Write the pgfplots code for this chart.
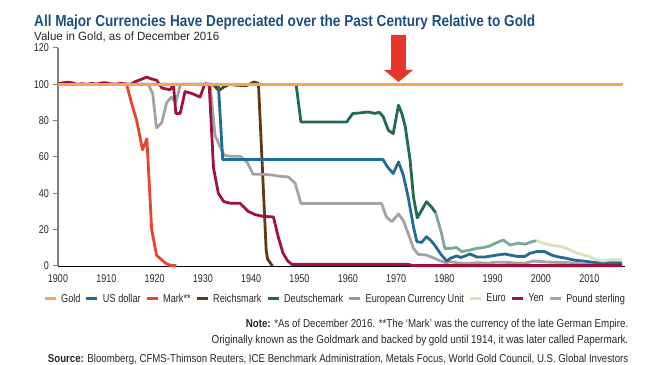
\documentclass[border=0pt]{standalone}
\usepackage{fontspec}
\setmainfont{Liberation Sans}[FakeStretch=0.8]
\usepackage{graphicx}
\usepackage{pgfplots}
\pgfplotsset{compat=1.18}
\definecolor{goldc}{RGB}{244,165,80}
\definecolor{usdc}{RGB}{32,108,148}
\definecolor{markc}{RGB}{232,68,46}
\definecolor{reichc}{RGB}{94,59,18}
\definecolor{dmc}{RGB}{31,107,77}
\definecolor{ecuc}{RGB}{125,167,154}
\definecolor{euroc}{RGB}{212,228,188}
\definecolor{yenc}{RGB}{163,18,63}
\definecolor{poundc}{RGB}{163,163,163}
\definecolor{arrowc}{RGB}{232,53,43}
\definecolor{titlec}{RGB}{27,79,128}
\definecolor{textc}{RGB}{40,40,40}
\begin{document}
\begin{tikzpicture}
\useasboundingbox (0,0) rectangle (668bp,365bp);
\begin{axis}[
  at={(58bp,99bp)}, anchor=south west,
  scale only axis, width=567bp, height=218bp,
  xmin=1900, xmax=2017.4, ymin=0, ymax=120,
  clip=false,
  axis x line*=bottom, axis y line*=left,
  axis line style={-},
  x axis line style={black, line width=0.9bp},
  y axis line style={gray, line width=1.8bp},
  xtick={1900,1910,...,2010}, ytick={0,20,...,120},
  xtick style={draw=none},
  ytick style={color=gray, line width=1bp},
  tick align=outside, major tick length=5.5bp,
  /pgf/number format/assume math mode=true,
  tick label style={font=\fontsize{11.3}{13}\selectfont, text=textc},
  x tick label style={/pgf/number format/1000 sep={}},
  legend columns=9,
  legend cell align=left,
  legend image code/.code={\draw[#1, line width=3bp] (0bp,0bp) -- (11bp,0bp);},
  legend style={at={(0.4868,-0.150)}, anchor=center, draw=none, fill=none,
    inner sep=0pt, font=\fontsize{11.5}{13}\selectfont, text=textc,
    nodes={inner sep=0pt},
    /tikz/every odd column/.append style={column sep=4bp},
    /tikz/every even column/.append style={column sep=4.5bp}},
  every axis plot/.append style={line width=2.8bp, line join=round},
]
% Mark
\addplot[forget plot, markc] coordinates {(1900,100)(1914.2,100)(1915.2,90)(1916.3,80)(1917.5,64)(1918.4,70)(1919.4,20)(1920.4,6)(1921.2,4)(1922.3,1.5)(1923.3,0.2)(1924.5,0.2)};
% Reichsmark
\addplot[forget plot, reichc] coordinates {(1931.5,100)(1932.3,99.5)(1933.3,96.5)(1934.3,98.5)(1935.5,100)(1937,99.5)(1939,99.3)(1940.6,101.3)(1941.5,100.5)(1942.3,55)(1943.1,8.8)(1943.4,3.8)(1944.4,0)};
% Pound sterling
\addplot[forget plot, poundc] coordinates {(1900,100)(1918.7,100)(1919.6,95)(1920.4,76)(1921.5,79)(1922.5,90)(1923.5,93)(1924.4,90)(1925.3,99.5)(1926,100)(1931.5,100)(1932.5,72)(1933.5,66)(1934.4,61)(1935.6,60.4)(1937.7,60.4)(1939.2,57)(1940.4,50.5)(1942.5,50.5)(1944.6,50)(1945.6,49.5)(1947.7,49)(1949.1,45.6)(1950.3,34.4)(1967,34.4)(1968,27)(1969.1,24.4)(1970.5,28.6)(1971.5,25)(1972.5,18)(1973.6,9.7)(1974.6,6.4)(1976.3,6)(1978,4.2)(1979,3)(1980.3,1.8)(1981.2,2.4)(1983,1.6)(1985,1.5)(1987,1.8)(1989,1.5)(1990.5,2.1)(1993,2)(1995,1.6)(1997,1.7)(1998.4,2.7)(1999.5,2.6)(2001,2.2)(2003,2)(2006,1.8)(2008,1.2)(2010,0.8)(2016.8,0.6)};
% US dollar
\addplot[forget plot, usdc] coordinates {(1900,100)(1933.2,100)(1934.1,58.6)(1967.3,58.6)(1968.2,54.6)(1969.4,50.9)(1970.5,57.3)(1971.5,50)(1972.5,38)(1973.6,21.6)(1974.3,13.4)(1975.3,13)(1976.3,16.1)(1977.2,14)(1978,11.5)(1979.4,6)(1980.5,2.7)(1981.2,4.2)(1982.5,5.5)(1983.5,4.7)(1985.3,6.6)(1986.7,5)(1988.5,5)(1990.8,6)(1992.5,6.6)(1995,5.3)(1996.7,5.3)(1997.7,7)(1999.1,7.9)(2000.8,7.9)(2002.2,6)(2003.6,5)(2005.3,4.2)(2006.7,3.3)(2008.8,2.7)(2011.6,1.8)(2016.8,1.8)};
% Deutschemark
\addplot[forget plot, dmc] coordinates {(1949.3,100)(1950.3,79.3)(1959.8,79.3)(1961,83.9)(1962.6,84.3)(1964.2,84.8)(1965.6,84)(1966.5,84.6)(1967.3,82.4)(1968.4,74.7)(1969.4,72.9)(1970.5,88.5)(1971.2,83.9)(1971.9,76.7)(1972.9,58.3)(1973.6,38)(1974.4,26.5)(1976.3,35.4)(1977.3,32.6)(1978.2,29.3)};
% European Currency Unit
\addplot[forget plot, ecuc] coordinates {(1978.2,29.3)(1979.4,18)(1980.1,9.7)(1981.2,9.7)(1982.5,10.2)(1983.6,7.9)(1985.3,8.8)(1986.7,9.7)(1988.1,10.2)(1989.4,11)(1990.5,12.5)(1992.2,14.3)(1993.6,11.5)(1995.3,12.6)(1996.7,12)(1998.1,13.4)(1999.1,13.9)};
% Euro
\addplot[forget plot, euroc] coordinates {(1999.1,13.9)(2000.7,12.3)(2002.5,11.3)(2004.2,10.7)(2005.9,9)(2007.6,7)(2009.6,5.5)(2011.5,3.6)(2012.9,2.7)(2014.6,3.6)(2016.8,3.2)};
% Yen
\addplot[forget plot, yenc] coordinates {(1900,100.3)(1901,100.8)(1902,101.2)(1903,100.8)(1904,99.8)(1905,100.3)(1906,99.8)(1907,100.5)(1908,100)(1909,100.8)(1910,100.8)(1911,100.2)(1912,100)(1913,100.5)(1914,100.2)(1915,99.8)(1916,101.5)(1917,102.5)(1918.4,104)(1919.3,103)(1920.4,102.3)(1921.5,98)(1923.2,97)(1923.9,100)(1924.4,84)(1925.3,84)(1926.3,96)(1927.7,95)(1929.4,93)(1930.4,100.3)(1931.3,100)(1932.2,54)(1933.2,40)(1934.3,35.5)(1935.7,34.5)(1937.7,34.5)(1939.4,30)(1940.8,28.3)(1942.5,27.3)(1944.6,27)(1945.6,16)(1946.6,7)(1947.5,3)(1948.4,0.9)(1972.5,0.9)(1973.5,0.2)(2016.8,0.2)};
% Gold
\addplot[forget plot, goldc, line width=3.3bp] coordinates {(1900,100)(2016.9,100)};
% arrow annotation
\fill[arrowc] (1968.95,127.2) -- (1972.05,127.2) -- (1972.05,107.9) -- (1973.5,107.9) -- (1970.5,101.3) -- (1967.5,107.9) -- (1968.95,107.9) -- cycle;
\addlegendimage{goldc}\addlegendentry{Gold}
\addlegendimage{usdc}\addlegendentry{US dollar}
\addlegendimage{markc}\addlegendentry{Mark**}
\addlegendimage{reichc}\addlegendentry{Reichsmark}
\addlegendimage{dmc}\addlegendentry{Deutschemark}
\addlegendimage{ecuc}\addlegendentry{European Currency Unit}
\addlegendimage{euroc}\addlegendentry{Euro}
\addlegendimage{yenc}\addlegendentry{Yen}
\addlegendimage{poundc}\addlegendentry{Pound sterling}
\end{axis}
\node[anchor=base west, inner sep=0pt, text=titlec] at (34bp,338.5bp)
  {\resizebox{501bp}{\height}{\fontsize{16}{19}\selectfont\bfseries All Major Currencies Have Depreciated over the Past Century Relative to Gold}};
\node[anchor=base west, inner sep=0pt, text=textc] at (34bp,324bp)
  {\resizebox{185bp}{\height}{\fontsize{12}{14}\selectfont Value in Gold, as of December 2016}};
\node[anchor=base east, inner sep=0pt, text=textc] at (628.5bp,38bp)
  {\resizebox{382.5bp}{\height}{\fontsize{11.5}{13}\selectfont\textbf{Note:} *As of December 2016. **The ‘Mark’ was the currency of the late German Empire.}};
\node[anchor=base east, inner sep=0pt, text=textc] at (628.5bp,21.6bp)
  {\resizebox{416.7bp}{\height}{\fontsize{11.5}{13}\selectfont Originally known as the Goldmark and backed by gold until 1914, it was later called Papermark.}};
\node[anchor=base east, inner sep=0pt, text=textc] at (628.5bp,2.8bp)
  {\resizebox{580.3bp}{\height}{\fontsize{11.5}{13}\selectfont\textbf{Source:} Bloomberg, CFMS-Thimson Reuters, ICE Benchmark Administration, Metals Focus, World Gold Council, U.S. Global Investors}};
\end{tikzpicture}
\end{document}
